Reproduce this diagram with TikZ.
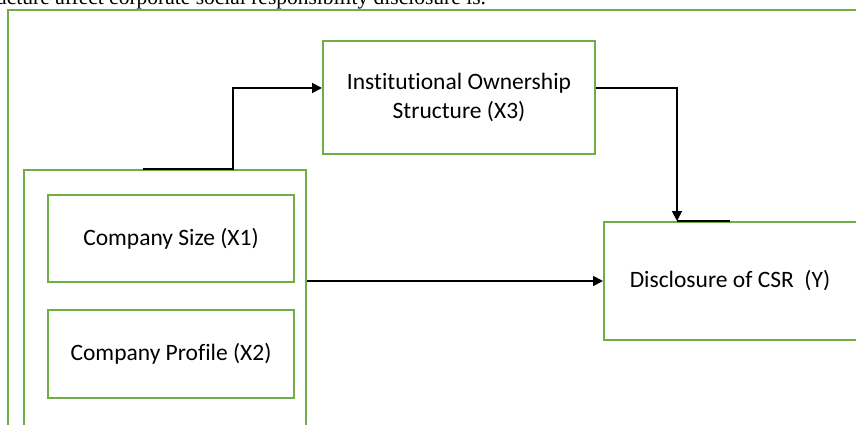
\documentclass[tikz,border=0pt]{standalone}
\usepackage{fontspec}
\setmainfont[Ligatures={NoCommon}]{Carlito}
\newfontfamily\timesfont{Liberation Serif}
\usetikzlibrary{arrows.meta}
\definecolor{boxgreen}{RGB}{112,173,71}
\tikzset{
  gbox/.style={draw=boxgreen, line width=2pt, fill=white, align=center, inner sep=0pt, font=\fontsize{23.5}{29}\selectfont},
  conn/.style={draw=black, line width=1.8pt, -{Triangle[length=10pt,width=10pt]}},
  plain/.style={draw=black, line width=1.8pt}
}
\begin{document}
\begin{tikzpicture}[x=1pt,y=-1pt]
\useasboundingbox (0,0) rectangle (856,425);
\begin{scope}
\clip (0,0) rectangle (856,425);
\node[anchor=base west, inner sep=0pt, font=\timesfont\fontsize{21.5}{24}\selectfont] (caption) at (-4,5) {ucture affect corporate social responsibility disclosure is.};
\draw[boxgreen, line width=2pt] (8,440) -- (8,10) -- (870,10);
\node[gbox, minimum width=282pt, minimum height=280pt, anchor=north west] (grp) at (23,169) {};
\node[gbox, minimum width=246pt, minimum height=87pt, anchor=north west] (size) at (47,194) {Company Size (X1)};
\node[gbox, minimum width=246pt, minimum height=88pt, anchor=north west] (prof) at (47,309) {Company Profile (X2)};
\node[gbox, minimum width=272pt, minimum height=113pt, anchor=north west] (inst) at (322,40) {Institutional Ownership\\Structure (X3)};
\node[gbox, minimum width=260pt, minimum height=118pt, anchor=north west] (disc) at (603,221) {};
\node[font=\fontsize{23.5}{29}\selectfont, anchor=center, inner sep=0pt] (disclabel) at (730,281) {Disclosure of CSR~~(Y)};
\coordinate (gstart) at (143,169);
\coordinate (gbend) at (233,169);
\draw[conn] (gstart) -- (gbend) |- (inst.west |- 0,88);
\coordinate (ibend) at (677,88);
\draw[conn] (inst.east |- 0,88) -- (ibend) -- (ibend |- disc.north);
\coordinate (dtop) at (730,221);
\draw[plain] (ibend |- disc.north) -- (dtop);
\draw[conn] (grp.east |- 0,281) -- (disc.west |- 0,281);
\end{scope}
\end{tikzpicture}
\end{document}
